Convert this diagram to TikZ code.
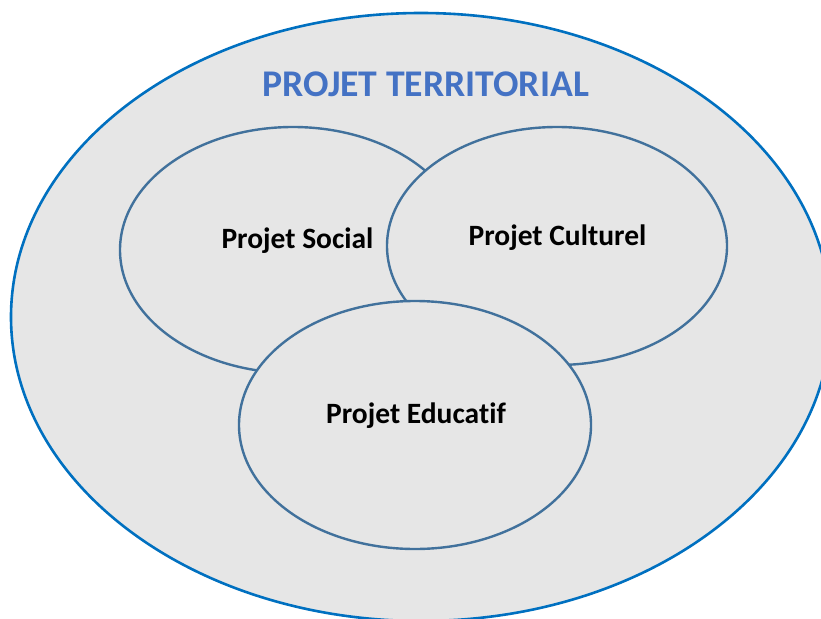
\documentclass[tikz,border=0pt]{standalone}
\usepackage{fontspec}
\setmainfont{Carlito}[RawFeature=-liga]
\usetikzlibrary{shapes.geometric}
\definecolor{bgfill}{HTML}{E6E6E6}
\definecolor{outerline}{HTML}{0070C0}
\definecolor{innerline}{HTML}{41719C}
\definecolor{titleblue}{HTML}{4472C4}
\tikzset{
    zone/.style={ellipse, draw=innerline, line width=2.4pt, fill=bgfill, inner sep=0pt},
    zonetext/.style={anchor=base, font=\bfseries\fontsize{29.5}{31}\selectfont, text=black},
}
\begin{document}
\begin{tikzpicture}[x=1pt, y=-1pt]
    \useasboundingbox (0,0) rectangle (821,618);
    \clip (0,0) rectangle (821,618);

    % Draw outer zone
    \node[ellipse, draw=outerline, line width=2.6pt, fill=bgfill, minimum width=820pt, minimum height=608pt] (territoire) at (421,317) {};
    \node[anchor=base, font=\bfseries\fontsize{37.7}{40}\selectfont, text=titleblue] (titre) at (425.5,96.7) {PROJET TERRITORIAL};

    % Draw inner zones
    \node[zone, minimum width=346pt, minimum height=246pt] (social) at (293,250) {};
    \node[zone, minimum width=340pt, minimum height=238pt] (culturel) at (557,246) {};
    \node[zone, minimum width=352pt, minimum height=248pt] (educatif) at (415,425) {};

    % Draw labels
    \node[zonetext] (socialtxt) at (297.5,248) {Projet Social};
    \node[zonetext] (culturetxt) at (557.5,245) {Projet Culturel};
    \node[zonetext] (educatxt) at (416,423) {Projet Educatif};
\end{tikzpicture}
\end{document}
